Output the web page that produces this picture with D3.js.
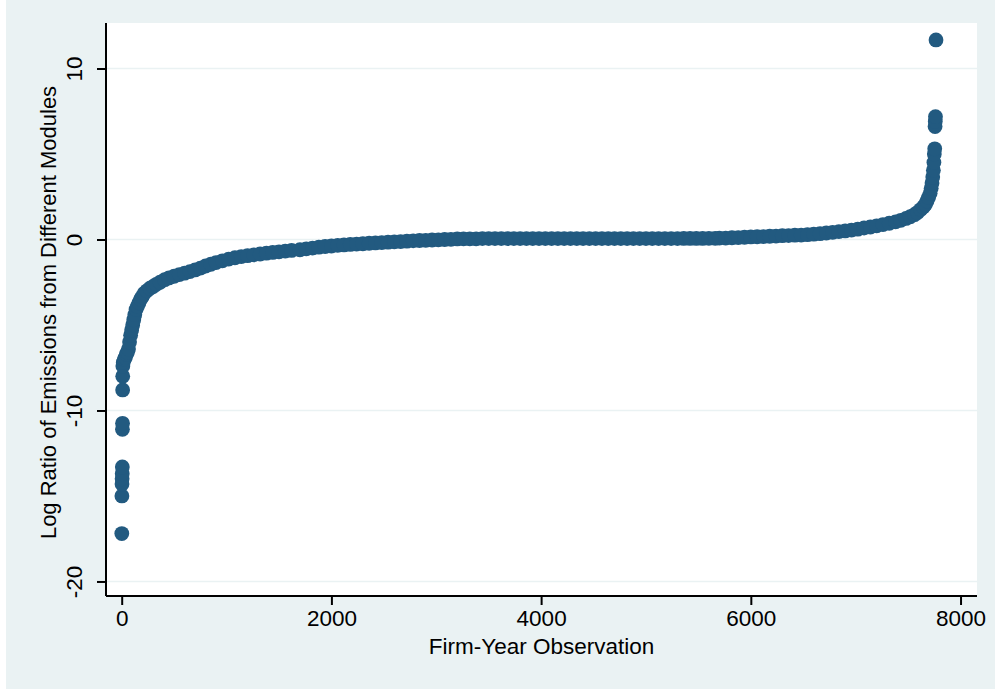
<!DOCTYPE html>
<html>
<head>
<meta charset="utf-8">
<script src="https://cdn.jsdelivr.net/npm/d3@7"></script>
<style>
  html, body { margin: 0; padding: 0; background: #ffffff; }
  svg { display: block; }
  text { font-family: "Liberation Sans", Arial, Helvetica, sans-serif; fill: #000; }
</style>
</head>
<body>
<svg id="chart" width="995" height="692"></svg>
<script>
// Sorted firm-year observations: rank and log ratio of emissions
const obsRank = [
  1, 2, 3, 4, 5, 6, 7, 8, 9, 10, 11,
  15, 25, 35, 45, 55, 65, 75, 85, 95, 105, 115, 125, 137, 150, 165, 180, 195, 215, 240, 270,
  300, 330, 366, 410, 450, 500, 550, 600, 650, 700, 750, 800, 850, 900, 960, 1020, 1080, 1140,
  1200, 1260, 1320, 1380, 1440, 1500, 1560, 1620, 1700, 1760, 1820, 1880, 1940, 2000, 2060,
  2120, 2180, 2240, 2300, 2360, 2420, 2480, 2540, 2600, 2660, 2720, 2780, 2840, 2900, 2960,
  3020, 3080, 3140, 3200, 3260, 3320, 3380, 3440, 3500, 3560, 3620, 3680, 3740, 3800, 3860,
  3920, 3980, 4040, 4100, 4160, 4220, 4280, 4340, 4400, 4460, 4520, 4580, 4640, 4700, 4760,
  4820, 4880, 4940, 5000, 5060, 5120, 5180, 5240, 5300, 5360, 5420, 5480, 5540, 5600, 5660,
  5700, 5760, 5820, 5880, 5940, 6000, 6060, 6120, 6180, 6240, 6300, 6360, 6420, 6480, 6540,
  6600, 6660, 6720, 6780, 6840, 6900, 6960, 7020, 7080, 7140, 7200, 7260, 7320, 7380, 7430,
  7480, 7520, 7560, 7590, 7620, 7645, 7665, 7680, 7695, 7710, 7720, 7728, 7735, 7741, 7746,
  7750, 7754, 7757, 7759, 7761, 7766
];
const logRatio = [
  -17.2, -15.0, -14.3, -14.0, -13.7, -13.3, -11.1, -10.75, -8.8, -8.0, -7.4,
  -7.2, -7.0, -6.9, -6.7, -6.6, -6.4, -6.0, -5.6, -5.3, -5.0, -4.7, -4.4, -4.1, -3.9, -3.7, -3.5, -3.35, -3.15, -3.0, -2.85,
  -2.75, -2.62, -2.5, -2.35, -2.25, -2.15, -2.05, -1.97, -1.88, -1.78, -1.68, -1.55, -1.45, -1.35, -1.25, -1.15, -1.07, -1.0,
  -0.95, -0.9, -0.85, -0.8, -0.76, -0.72, -0.68, -0.64, -0.6, -0.55, -0.5, -0.45, -0.41, -0.38, -0.35,
  -0.32, -0.29, -0.27, -0.25, -0.22, -0.2, -0.18, -0.16, -0.14, -0.12, -0.1, -0.08, -0.06, -0.05, -0.03,
  -0.02, 0.0, 0.01, 0.03, 0.04, 0.04, 0.04, 0.05, 0.05, 0.05, 0.05, 0.05, 0.05, 0.05, 0.05,
  0.05, 0.05, 0.05, 0.05, 0.05, 0.05, 0.05, 0.05, 0.05, 0.05, 0.05, 0.05, 0.05, 0.05, 0.05,
  0.05, 0.05, 0.05, 0.05, 0.05, 0.05, 0.05, 0.05, 0.05, 0.06, 0.06, 0.06, 0.06, 0.07, 0.07,
  0.08, 0.08, 0.1, 0.11, 0.13, 0.15, 0.16, 0.17, 0.19, 0.2, 0.22, 0.23, 0.25, 0.26, 0.28,
  0.31, 0.34, 0.38, 0.42, 0.46, 0.5, 0.55, 0.6, 0.67, 0.73, 0.8, 0.87, 0.95, 1.03, 1.12,
  1.23, 1.33, 1.45, 1.58, 1.75, 1.9, 2.05, 2.25, 2.45, 2.7, 3.0, 3.3, 3.65, 4.05, 4.5,
  5.0, 5.3, 6.6, 6.9, 7.18, 11.67
];
const xTicks = [0, 2000, 4000, 6000, 8000];
const yTicks = [-20, -10, 0, 10];
const xTitle = "Firm-Year Observation";
const yTitle = "Log Ratio of Emissions from Different Modules";

const svg = d3.select("#chart");
const W = 995, H = 692;
const bg = "#eaf2f3";
const plot = { left: 106, right: 977, top: 23, bottom: 596 };
const fontSize = 22.5;

// Outer graph region
svg.append("rect").attr("x", 6).attr("y", 0).attr("width", W - 6).attr("height", H - 3).attr("fill", bg);
// Plot region
svg.append("rect")
  .attr("x", plot.left - 1).attr("y", plot.top)
  .attr("width", plot.right - plot.left + 1).attr("height", plot.bottom - plot.top)
  .attr("fill", "#ffffff");

const x = d3.scaleLinear().domain([-149.7, 8157]).range([plot.left, plot.right]);
const y = d3.scaleLinear().domain([-20.85, 12.66]).range([plot.bottom, plot.top]);

// Horizontal grid lines
svg.append("g").selectAll("line").data(yTicks).join("line")
  .attr("x1", plot.left).attr("x2", plot.right)
  .attr("y1", d => y(d)).attr("y2", d => y(d))
  .attr("stroke", bg).attr("stroke-width", 1.6);

// Markers
const pts = obsRank.map((r, i) => ({ r, v: logRatio[i] }));
svg.append("g").selectAll("circle").data(pts).join("circle")
  .attr("cx", d => x(d.r)).attr("cy", d => y(d.v))
  .attr("r", 7.4).attr("fill", "#225a80");

// Axes (plain hyphen for negative labels)
const fmt = d => String(d);
const xAxis = d3.axisBottom(x).tickValues(xTicks).tickSize(9).tickPadding(5).tickFormat(fmt);
const gx = svg.append("g").attr("transform", `translate(0,${plot.bottom})`).call(xAxis);
gx.select(".domain").attr("d", `M${plot.left},0H${plot.right}`).attr("stroke-width", 2);
gx.selectAll(".tick line").attr("stroke-width", 2);
gx.selectAll(".tick text").attr("font-size", fontSize).attr("font-family", "Liberation Sans, Arial, sans-serif");

const yAxis = d3.axisLeft(y).tickValues(yTicks).tickSize(9).tickPadding(0).tickFormat(fmt);
const gy = svg.append("g").attr("transform", `translate(${plot.left},0)`).call(yAxis);
gy.select(".domain").attr("d", `M0,${plot.top}V${plot.bottom}`).attr("stroke-width", 2);
gy.selectAll(".tick line").attr("stroke-width", 2);
gy.selectAll(".tick text")
  .attr("font-size", fontSize).attr("font-family", "Liberation Sans, Arial, sans-serif")
  .attr("x", null).attr("dy", null)
  .attr("text-anchor", "middle")
  .attr("transform", "translate(-24,0) rotate(-90)");

// Axis titles
svg.append("text")
  .attr("x", (plot.left + plot.right) / 2).attr("y", 654)
  .attr("text-anchor", "middle").attr("font-size", fontSize)
  .text(xTitle);
svg.append("text")
  .attr("transform", `translate(56,${(plot.top + plot.bottom) / 2 + 3}) rotate(-90)`)
  .attr("text-anchor", "middle").attr("font-size", 22)
  .text(yTitle);
</script>
</body>
</html>
